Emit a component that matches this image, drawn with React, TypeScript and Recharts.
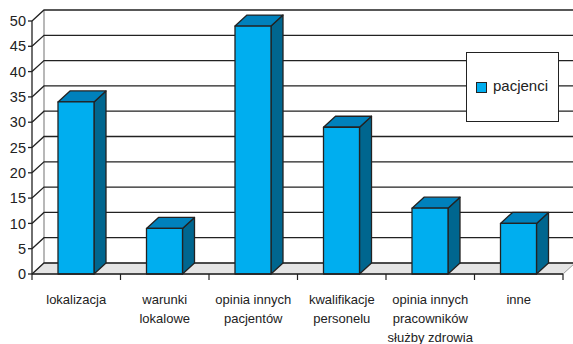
import React from 'react';
import { Bar, BarChart, CartesianGrid, XAxis, YAxis } from 'recharts';

const categories = [
  'lokalizacja',
  'warunki\nlokalowe',
  'opinia innych\npacjentów',
  'kwalifikacje\npersonelu',
  'opinia innych\npracowników\nsłużby zdrowia',
  'inne',
];
const pacjenci = [34, 9, 49, 29, 13, 10];
const yTicks = [0, 5, 10, 15, 20, 25, 30, 35, 40, 45, 50];

const data = categories.map((name, i) => ({ name, pacjenci: pacjenci[i] }));

// depth of the pseudo 3D box
const DX = 12;
const DY = 11;
const INK = '#222';
const FONT = "'Liberation Sans', Arial, sans-serif";

const colors = {
  front: '#00AEEF',
  top: '#0081BC',
  side: '#00668F',
  floor: '#E4E4E4',
};

const Bar3D = (props: any) => {
  const { x, y, width, height } = props;
  if (width == null || height == null) return null;
  const b = y + height;
  return (
    <g stroke={INK} strokeWidth={1.3} strokeLinejoin="round">
      <polygon
        points={`${x + width},${y} ${x + width + DX},${y - DY} ${x + width + DX},${b - DY} ${x + width},${b}`}
        fill={colors.side}
      />
      <polygon
        points={`${x},${y} ${x + DX},${y - DY} ${x + width + DX},${y - DY} ${x + width},${y}`}
        fill={colors.top}
      />
      <rect x={x} y={y} width={width} height={height} fill={colors.front} />
    </g>
  );
};

const GridLine = (props: any) => {
  const { x1, y1, x2, y, height, index } = props;
  const bottom = y != null && height != null ? y + height : null;
  const isFloor = bottom != null ? Math.abs(y1 - bottom) < 0.5 : index === 0;
  if (isFloor) {
    return (
      <g key={props.key}>
        <polygon
          points={`${x1},${y1} ${x1 + DX},${y1 - DY} ${x2 + DX},${y1 - DY} ${x2},${y1}`}
          fill={colors.floor}
          stroke="#9a9a9a"
          strokeWidth={1}
        />
        <line x1={x1 + DX} y1={y1 - DY} x2={x1 + DX} y2={(y ?? 21) - DY} stroke="#a0a0a0" strokeWidth={1.5} />
        <path d={`M${x1},${y1} L${x1 + DX},${y1 - DY} L${x2 + DX},${y1 - DY}`} fill="none" stroke={INK} strokeWidth={1.3} />
      </g>
    );
  }
  return (
    <path
      key={props.key}
      d={`M${x1},${y1} L${x1 + DX},${y1 - DY} L${x2 + DX},${y1 - DY}`}
      fill="none"
      stroke={INK}
      strokeWidth={1.3}
    />
  );
};

const CategoryTick = (props: any) => {
  const { x, y, payload, index } = props;
  const lines = String(payload.value).split('\n');
  const half = payload.offset ?? 0;
  return (
    <g>
      <line x1={x - half} y1={y} x2={x - half} y2={y + 6} stroke={INK} strokeWidth={1.2} />
      {index === categories.length - 1 && (
        <line x1={x + half} y1={y} x2={x + half} y2={y + 6} stroke={INK} strokeWidth={1.2} />
      )}
      <text x={x} y={y + 30} textAnchor="middle" fill={INK} fontSize={13} fontFamily={FONT}>
        {lines.map((line, i) => (
          <tspan key={i} x={x} dy={i === 0 ? 0 : 19}>
            {line}
          </tspan>
        ))}
      </text>
    </g>
  );
};

const styles = {
  page: {
    position: 'absolute',
    left: 0,
    top: 0,
    width: 573,
    height: 344,
    background: '#fff',
    fontFamily: FONT,
  } as React.CSSProperties,
  legend: {
    position: 'absolute',
    left: 466,
    top: 52,
    width: 91,
    height: 68,
    border: `1px solid ${INK}`,
    background: '#fff',
  } as React.CSSProperties,
  swatch: {
    position: 'absolute',
    left: 9,
    top: 29,
    width: 9,
    height: 9,
    background: colors.front,
    border: `1px solid ${INK}`,
  } as React.CSSProperties,
  legendText: {
    position: 'absolute',
    left: 26,
    top: 24,
    fontSize: 15,
    color: INK,
    lineHeight: '18px',
  } as React.CSSProperties,
};

export default function App() {
  return (
    <div style={styles.page}>
      <BarChart width={573} height={344} data={data} margin={{ top: 21, right: 10, bottom: 40, left: 8 }}>
        <CartesianGrid vertical={false} horizontal={GridLine} />
        <XAxis
          dataKey="name"
          height={30}
          interval={0}
          tickLine={false}
          tickSize={0}
          tickMargin={0}
          axisLine={{ stroke: INK, strokeWidth: 1.3 }}
          tick={CategoryTick}
        />
        <YAxis
          width={24}
          domain={[0, 50]}
          ticks={yTicks}
          interval={0}
          tickSize={4}
          tickMargin={2}
          axisLine={{ stroke: INK, strokeWidth: 1.3 }}
          tickLine={{ stroke: INK, strokeWidth: 1.3 }}
          tick={{ fill: INK, fontSize: 14.5, fontFamily: FONT }}
        />
        <Bar dataKey="pacjenci" barSize={36} shape={Bar3D} isAnimationActive={false} />
      </BarChart>
      <div style={styles.legend}>
        <div style={styles.swatch} />
        <div style={styles.legendText}>pacjenci</div>
      </div>
    </div>
  );
}
